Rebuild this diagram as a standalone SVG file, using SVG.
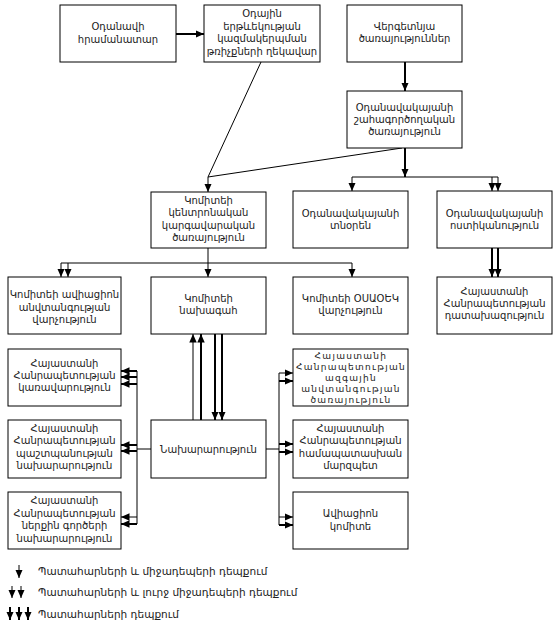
<svg xmlns="http://www.w3.org/2000/svg" width="557" height="626" viewBox="0 0 557 626">
<style>
.box{fill:#fff;stroke:#000;stroke-width:1}
.t{font-family:"DejaVu Sans","Noto Sans",sans-serif;font-size:10px;fill:#222;text-anchor:middle}
.ts{font-family:"DejaVu Sans","Noto Sans",sans-serif;font-size:9px;letter-spacing:1.3px;fill:#222;text-anchor:middle}
.lg{font-family:"DejaVu Sans","Noto Sans",sans-serif;font-size:10.5px;fill:#222}
.c{fill:none;stroke:#000;stroke-width:1}
.k{fill:none;stroke:#000;stroke-width:2}
.a{marker-end:url(#ah)}
</style>
<defs>
<marker id="ah" markerUnits="userSpaceOnUse" markerWidth="10" markerHeight="8" refX="8.5" refY="3.75" orient="auto">
<path d="M0,0 L8.5,3.75 L0,7.5 z" fill="#000"/>
</marker>
</defs>
<rect width="557" height="626" fill="#fff"/>
<g id="connectors">
<path class="k a" d="M176,34 H204"/>
<path class="c" d="M261,62 L208,177 L402,148"/>
<path class="c a" d="M208,177 V192"/>
<path class="k a" d="M405,62 V91"/>
<path class="k a" d="M405,148 V177"/>
<path class="c" d="M352,177 H498"/>
<path class="c a" d="M352,177 V191"/>
<path class="c a" d="M492,177 V191"/>
<path class="c a" d="M498,177 V191"/>
<path class="c" d="M208,248 V263 M61,263 H352"/>
<path class="c a" d="M61,263 V277"/>
<path class="c a" d="M68,263 V277"/>
<path class="c a" d="M208,263 V277"/>
<path class="c a" d="M352,263 V277"/>
<path class="k a" d="M492,248 V277"/>
<path class="k a" d="M498,248 V277"/>
<path class="c a" d="M193,420 V334"/>
<path class="k a" d="M201,420 V334"/>
<path class="k a" d="M215,334 V420"/>
<path class="k a" d="M222,334 V420"/>
<path class="c" d="M151,449 H137 M137,371 V524"/>
<path class="k a" d="M137,371 H121"/>
<path class="k a" d="M137,377 H121"/>
<path class="k a" d="M137,384 H121"/>
<path class="k a" d="M137,445 H121"/>
<path class="k a" d="M137,451 H121"/>
<path class="c a" d="M137,517 H121"/>
<path class="k a" d="M137,524 H121"/>
<path class="c" d="M266,449 H279 M279,373 V525"/>
<path class="c a" d="M279,373 H293"/>
<path class="k a" d="M279,381 H293"/>
<path class="k a" d="M279,444 H293"/>
<path class="k a" d="M279,452 H293"/>
<path class="c a" d="M279,517 H293"/>
<path class="k a" d="M279,525 H293"/>
</g>
<g id="b1"><rect class="box" x="60" y="5" width="116" height="57"/><text class="t" x="118" y="30">Օդանավի</text><text class="t" x="118" y="43">հրամանատար</text></g>
<g id="b2"><rect class="box" x="204" y="5" width="116" height="57"/><text class="t" x="262" y="17">Օդային</text><text class="t" x="262" y="29.5">երթևեկության</text><text class="t" x="262" y="42">կազմակերպման</text><text class="t" x="262" y="54.5">թռիչքների ղեկավար</text></g>
<g id="b3"><rect class="box" x="347" y="5" width="115" height="57"/><text class="t" x="404.5" y="30">Վերգետնյա</text><text class="t" x="404.5" y="42">ծառայություններ</text></g>
<g id="b4"><rect class="box" x="347" y="91" width="115" height="57"/><text class="t" x="404.5" y="111">Օդանավակայանի</text><text class="t" x="404.5" y="123">շահագործողական</text><text class="t" x="404.5" y="135">ծառայություն</text></g>
<g id="b5"><rect class="box" x="151" y="192" width="115" height="56"/><text class="t" x="208.5" y="203.5">Կոմիտեի</text><text class="t" x="208.5" y="216">կենտրոնական</text><text class="t" x="208.5" y="228.5">կարգավարական</text><text class="t" x="208.5" y="241">ծառայություն</text></g>
<g id="b6"><rect class="box" x="293" y="191" width="115" height="57"/><text class="t" x="350.5" y="217">Օդանավակայանի</text><text class="t" x="350.5" y="229">տնօրեն</text></g>
<g id="b7"><rect class="box" x="437" y="191" width="115" height="57"/><text class="t" x="494.5" y="217">Օդանավակայանի</text><text class="t" x="494.5" y="229">ոստիկանություն</text></g>
<g id="b8"><rect class="box" x="8" y="277" width="113" height="57"/><text class="t" x="64.5" y="298">Կոմիտեի ավիացիոն</text><text class="t" x="64.5" y="311">անվտանգության</text><text class="t" x="64.5" y="323">վարչություն</text></g>
<g id="b9"><rect class="box" x="151" y="277" width="115" height="57"/><text class="t" x="208.5" y="302">Կոմիտեի</text><text class="t" x="208.5" y="314">նախագահ</text></g>
<g id="b10"><rect class="box" x="293" y="277" width="115" height="57"/><text class="t" x="350.5" y="302">Կոմիտեի ՕՍԱՕԵԿ</text><text class="t" x="350.5" y="314">վարչություն</text></g>
<g id="b11"><rect class="box" x="437" y="277" width="115" height="57"/><text class="t" x="494.5" y="295">Հայաստանի</text><text class="t" x="494.5" y="307">Հանրապետության</text><text class="t" x="494.5" y="319">դատախազություն</text></g>
<g id="b12"><rect class="box" x="8" y="349" width="113" height="57"/><text class="t" x="64.5" y="367">Հայաստանի</text><text class="t" x="64.5" y="379">Հանրապետության</text><text class="t" x="64.5" y="391">կառավարություն</text></g>
<g id="b13"><rect class="box" x="8" y="420" width="113" height="58"/><text class="t" x="64.5" y="432">Հայաստանի</text><text class="t" x="64.5" y="444">Հանրապետության</text><text class="t" x="64.5" y="457">պաշտպանության</text><text class="t" x="64.5" y="469">նախարարություն</text></g>
<g id="b14"><rect class="box" x="8" y="492" width="113" height="57"/><text class="t" x="64.5" y="504">Հայաստանի</text><text class="t" x="64.5" y="517">Հանրապետության</text><text class="t" x="64.5" y="529">ներքին գործերի</text><text class="t" x="64.5" y="542">նախարարություն</text></g>
<g id="b15"><rect class="box" x="151" y="420" width="115" height="58"/><text class="t" x="208.5" y="453">Նախարարություն</text></g>
<g id="b16"><rect class="box" x="293" y="349" width="115" height="57"/><text class="ts" x="351" y="358.5">Հայաստանի</text><text class="ts" x="351" y="369.5">Հանրապետության</text><text class="ts" x="351" y="380.5">ազգային</text><text class="ts" x="351" y="391.5">անվտանգության</text><text class="ts" x="351" y="403">ծառայություն</text></g>
<g id="b17"><rect class="box" x="293" y="420" width="115" height="58"/><text class="t" x="350.5" y="432">Հայաստանի</text><text class="t" x="350.5" y="444">Հանրապետության</text><text class="t" x="350.5" y="457">համապատասխան</text><text class="t" x="350.5" y="469">մարզպետ</text></g>
<g id="b18"><rect class="box" x="293" y="492" width="115" height="57"/><text class="t" x="350.5" y="517">Ավիացիոն</text><text class="t" x="350.5" y="530">կոմիտե</text></g>
<g id="legend">
<path class="c a" d="M19,565 V578"/>
<path class="c a" d="M12,586 V598"/>
<path class="c a" d="M21,586 V598"/>
<path class="k a" d="M10,607 V620"/>
<path class="k a" d="M19,607 V620"/>
<path class="k a" d="M28,607 V620"/>
<text class="lg" x="38" y="575">Պատահարների և միջադեպերի դեպքում</text>
<text class="lg" x="38" y="596">Պատահարների և լուրջ միջադեպերի դեպքում</text>
<text class="lg" x="38" y="618">Պատահարների դեպքում</text>
</g>
</svg>
